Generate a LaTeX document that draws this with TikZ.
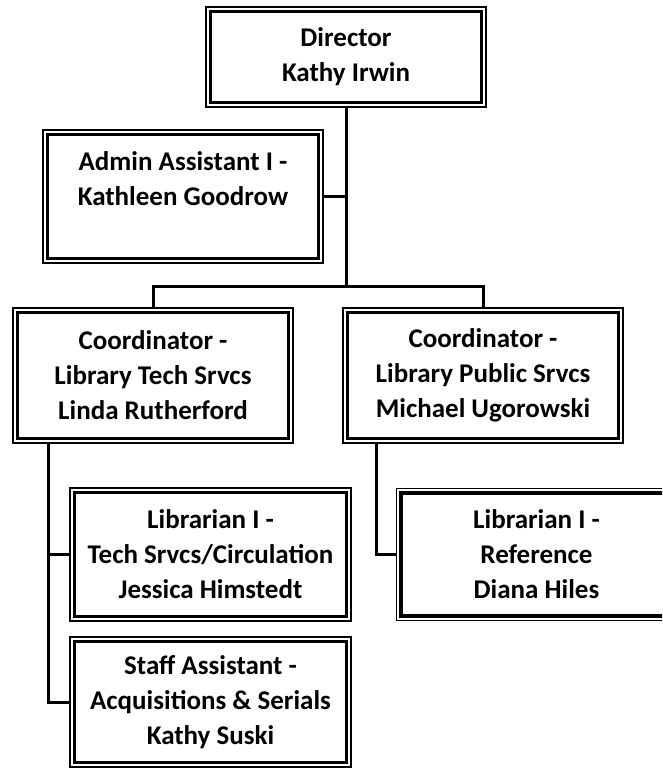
\documentclass[tikz,border=0pt]{standalone}
\usepackage{fontspec}
\setmainfont{Carlito}
\usetikzlibrary{calc}
\tikzset{
  orgbox/.style={draw, line width=1.2pt, inner sep=0pt, outer sep=0pt,
    minimum width=#1, align=center, text=black,
    font=\fontsize{27}{35}\selectfont\bfseries,
    path picture={\draw[line width=3.6pt]
      ([shift={(4.6pt,4.6pt)}]path picture bounding box.south west) rectangle
      ([shift={(-4.6pt,-4.6pt)}]path picture bounding box.north east);}},
  orgbox/.default=280pt,
  link/.style={line width=3pt}
}
\begin{document}
\begin{tikzpicture}[x=1pt,y=-1pt]
\useasboundingbox (0,0) rectangle (662,769);
\clip (0,0) rectangle (662,769);
\node[orgbox, minimum height=100pt] (dir) at (346,57) {Director\\Kathy Irwin};
\node[orgbox, minimum height=133pt] (adm) at (183,196.5) {Admin Assistant I -\\Kathleen Goodrow\\\mbox{}};
\node[orgbox, minimum height=135pt] (ct) at (153,375.5) {Coordinator -\\Library Tech Srvcs\\Linda Rutherford};
\node[orgbox, minimum height=135pt] (cp) at (483,375.5) {Coordinator -\\Library Public Srvcs\\Michael Ugorowski};
\node[orgbox=281pt, minimum height=133pt] (lt) at (210.5,554.5) {Librarian I -\\Tech Srvcs/Circulation\\Jessica Himstedt};
\node[orgbox, minimum height=132pt] (lp) at (536.5,554.5) {Librarian I -\\Reference\\Diana Hiles};
\node[orgbox=281pt, minimum height=130pt] (sa) at (210.5,702) {Staff Assistant -\\Acquisitions \& Serials\\Kathy Suski};
\coordinate (bar) at ($(dir.south)+(0,179)$);
\draw[link] (dir.south) -- (bar);
\draw[link] (adm.east) -- (adm.east -| dir.south);
\draw[link] (ct.north) |- (bar) -| (cp.north);
\draw[link] ([xshift=35pt]ct.south west) |- (lt.west);
\draw[link] ([xshift=35pt]ct.south west) |- (sa.west);
\draw[link] ([xshift=33pt]cp.south west) |- (lp.west);
\end{tikzpicture}
\end{document}
